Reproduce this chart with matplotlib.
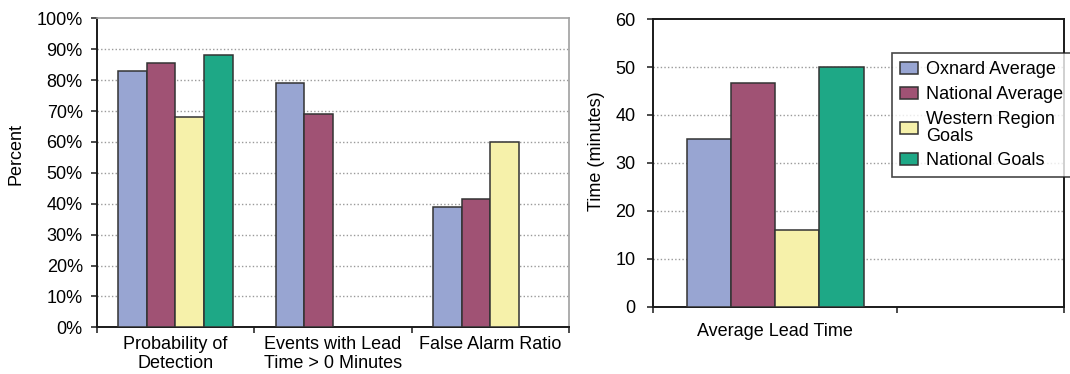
import numpy as np
import matplotlib.pyplot as plt
from matplotlib.ticker import FixedLocator, NullFormatter, FixedFormatter

plt.rcParams['font.family'] = ['Liberation Sans', 'DejaVu Sans']
plt.rcParams['font.size'] = 13

# Data
series = ['Oxnard Average', 'National Average', 'Western Region\nGoals', 'National Goals']
colors = ['#98a5d2', '#a05274', '#f6f1aa', '#1ea886']

categories = ['Probability of\nDetection', 'Events with Lead\nTime > 0 Minutes', 'False Alarm Ratio']
percent_values = [
    [83.0, 79.0, 39.0],             # Oxnard Average
    [85.5, 69.0, 41.5],             # National Average
    [68.0, np.nan, 60.0],           # Western Region Goals
    [88.0, np.nan, np.nan],         # National Goals
]

lead_category = ['Average Lead Time']
lead_values = [35.0, 46.7, 16.0, 50.0]

edge = '#333333'
dark = '#1a1a1a'
grid_kw = dict(color='#9a9a9a', linestyle=(0, (1, 1.6)), linewidth=1.0)
group = 0.727          # fraction of a category taken by the 4 bars
w = group / 4

fig = plt.figure(figsize=(10.7, 3.74), dpi=100)

# ---- left chart: percentages ----
ax1 = fig.add_axes([0.0904, 0.1249, 0.4414, 0.826])
x = np.arange(len(categories))
for i, vals in enumerate(percent_values):
    off = -group / 2 + w * (i + 0.5)
    ax1.bar(x + off, vals, width=w, color=colors[i], edgecolor=edge,
            linewidth=1.1, zorder=3)
ax1.set_xlim(-0.5, 2.5)
ax1.set_ylim(0, 100)
ax1.yaxis.set_major_locator(FixedLocator(np.arange(0, 101, 10)))
ax1.set_yticklabels([f'{v}%' for v in range(0, 101, 10)])
for v in range(10, 100, 10):
    ax1.axhline(v, zorder=1, **grid_kw)
ax1.xaxis.set_major_locator(FixedLocator([-0.5, 0.5, 1.5, 2.5]))
ax1.xaxis.set_major_formatter(NullFormatter())
ax1.xaxis.set_minor_locator(FixedLocator(x))
ax1.xaxis.set_minor_formatter(FixedFormatter(categories))
ax1.tick_params(axis='x', which='major', length=4.5, width=1.1, color=dark)
ax1.tick_params(axis='x', which='minor', length=0, pad=6)
ax1.tick_params(axis='y', length=4, width=1.1, color=dark, pad=6)
ax1.set_ylabel('Percent')
ax1.yaxis.set_label_coords(-0.152, 0.56)
for s in ['left', 'bottom']:
    ax1.spines[s].set_linewidth(1.4)
    ax1.spines[s].set_color(dark)
for s in ['top', 'right']:
    ax1.spines[s].set_linewidth(1.2)
    ax1.spines[s].set_color('#a0a0a0')

# ---- right chart: lead time ----
ax2 = fig.add_axes([0.6106, 0.18, 0.3838, 0.769])
handles = []
for i, v in enumerate(lead_values):
    off = -group / 2 + w * (i + 0.5)
    b = ax2.bar(off, v, width=w, color=colors[i], edgecolor=edge,
                linewidth=1.1, zorder=3)
    handles.append(b)
ax2.set_xlim(-0.5, 1.187)
ax2.set_ylim(0, 60)
ax2.yaxis.set_major_locator(FixedLocator(np.arange(0, 61, 10)))
for v in range(10, 60, 10):
    ax2.axhline(v, zorder=1, **grid_kw)
ax2.xaxis.set_major_locator(FixedLocator([-0.5, 0.5, 1.187]))
ax2.xaxis.set_major_formatter(NullFormatter())
ax2.xaxis.set_minor_locator(FixedLocator([0]))
ax2.xaxis.set_minor_formatter(FixedFormatter(lead_category))
ax2.tick_params(axis='x', which='major', length=4.5, width=1.1, color=dark)
ax2.tick_params(axis='x', which='minor', length=0, pad=12)
ax2.tick_params(axis='y', length=4, width=1.1, color=dark, pad=9)
ax2.set_ylabel('Time (minutes)')
ax2.yaxis.set_label_coords(-0.118, 0.54)
for s in ['left', 'bottom', 'top', 'right']:
    ax2.spines[s].set_linewidth(1.4)
    ax2.spines[s].set_color(dark)

leg = fig.legend(handles, series, loc='upper left',
                 bbox_to_anchor=(891.7 / 1070, 1 - 53.3 / 374),
                 frameon=True, fancybox=False, edgecolor=dark,
                 fontsize=13, handlelength=1.0, handleheight=0.63,
                 handletextpad=0.45, labelspacing=0.42, borderpad=0.45,
                 borderaxespad=0)
leg.get_frame().set_linewidth(1.2)
for t in leg.get_texts():
    t.set_linespacing(1.0)

fig.savefig('out.png', dpi=100)
